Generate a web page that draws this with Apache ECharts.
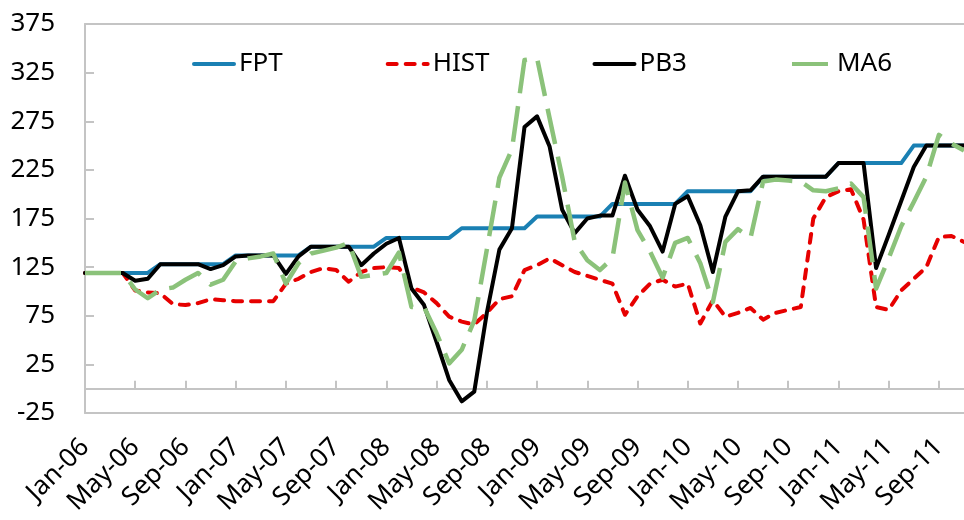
<!DOCTYPE html>
<html>
<head>
<meta charset="utf-8">
<script src="https://cdn.jsdelivr.net/npm/echarts@6/dist/echarts.min.js"></script>
<style>
  html, body { margin: 0; padding: 0; background: #fff; }
  #chart { width: 964px; height: 520px; }
</style>
</head>
<body>
<div id="chart"></div>
<script>
// Monthly categories, Jan-06 .. Nov-11
const months = [
  'Jan-06','Feb-06','Mar-06','Apr-06','May-06','Jun-06','Jul-06','Aug-06','Sep-06','Oct-06','Nov-06','Dec-06',
  'Jan-07','Feb-07','Mar-07','Apr-07','May-07','Jun-07','Jul-07','Aug-07','Sep-07','Oct-07','Nov-07','Dec-07',
  'Jan-08','Feb-08','Mar-08','Apr-08','May-08','Jun-08','Jul-08','Aug-08','Sep-08','Oct-08','Nov-08','Dec-08',
  'Jan-09','Feb-09','Mar-09','Apr-09','May-09','Jun-09','Jul-09','Aug-09','Sep-09','Oct-09','Nov-09','Dec-09',
  'Jan-10','Feb-10','Mar-10','Apr-10','May-10','Jun-10','Jul-10','Aug-10','Sep-10','Oct-10','Nov-10','Dec-10',
  'Jan-11','Feb-11','Mar-11','Apr-11','May-11','Jun-11','Jul-11','Aug-11','Sep-11','Oct-11','Nov-11'
];

const fpt = [
  119,119,119,119,119,119, 128,128,128,128,128,128,
  137,137,137,137,137,137, 146,146,146,146,146,146,
  155,155,155,155,155,155, 165,165,165,165,165,165,
  177,177,177,177,177,177, 190,190,190,190,190,190,
  203,203,203,203,203,203, 218,218,218,218,218,218,
  232,232,232,232,232,232, 250,250,250,250,250
];

const hist = [
  119,119,119,119,101,99,98,87,86,88,92,91,
  90,90,90,90,108,113,120,124,122,110,120,124,
  125,124,104,99,88,74,69,66,78,92,95,122,
  127,134,127,120,116,112,108,76,95,108,112,105,
  108,67,91,74,78,83,71,78,81,84,175,197,
  203,205,174,84,81,101,113,125,156,157,151
];

const pb3 = [
  119,119,119,119,111,113,128,128,128,128,123,127,
  136,137,137,137,118,136,146,146,146,146,127,139,
  149,155,103,86,48,9,-13,-3,78,143,165,269,
  280,249,184,160,175,178,178,219,184,167,141,190,
  198,168,120,177,203,204,218,218,218,218,218,218,
  232,232,232,124,158,193,228,250,250,250,250
];

const ma6 = [
  119,119,119,119,102,93,102,104,112,119,107,112,
  131,134,136,139,108,129,139,142,145,150,115,117,
  119,140,84,84,57,26,40,70,143,217,246,338,
  340,278,218,151,132,122,134,212,163,141,114,150,
  155,129,89,151,164,155,213,215,214,213,204,203,
  206,211,197,103,134,167,192,218,261,252,245
];

const FONT = '"Noto Sans", "Open Sans", sans-serif';
const AXIS_GREY = '#c4c4c4';

const chart = echarts.init(document.getElementById('chart'), null, { renderer: 'canvas' });

function lineSeries(name, data, color, width, dash, cap) {
  return {
    name: name,
    type: 'line',
    data: data,
    xAxisIndex: 0,
    yAxisIndex: 0,
    symbol: 'none',
    smooth: false,
    animation: false,
    lineStyle: {
      color: color,
      width: width,
      type: dash,
      cap: cap,
      join: 'round'
    },
    itemStyle: { color: color }
  };
}

chart.setOption({
  animation: false,
  backgroundColor: '#ffffff',
  grid: { left: 85, right: 0, top: 24, bottom: 107, containLabel: false },
  legend: {
    left: 187,
    top: 46,
    itemWidth: 40,
    itemHeight: 14,
    itemGap: 103,
    // legend keys are plain line samples, no marker
    itemStyle: { opacity: 0 },
    lineStyle: { width: 4 },
    textStyle: { fontFamily: FONT, fontSize: 26, color: '#000' },
    data: ['FPT', 'HIST', 'PB3', 'MA6']
  },
  xAxis: [
    {
      // lower frame edge carrying the month labels
      type: 'category',
      data: months,
      boundaryGap: false,
      position: 'bottom',
      axisLine: { show: true, onZero: false, lineStyle: { color: AXIS_GREY, width: 2 } },
      axisTick: { show: false },
      splitLine: { show: false },
      axisLabel: {
        interval: 3,
        rotate: 45,
        margin: 30,
        fontFamily: FONT,
        fontSize: 26,
        color: '#000'
      }
    },
    {
      // upper frame edge
      type: 'category',
      data: months,
      boundaryGap: false,
      position: 'top',
      axisLine: { show: true, onZero: false, lineStyle: { color: AXIS_GREY, width: 2 } },
      axisTick: { show: false },
      axisLabel: { show: false },
      splitLine: { show: false }
    },
    {
      // zero line with inward ticks
      type: 'category',
      data: months,
      boundaryGap: false,
      position: 'bottom',
      axisLine: { show: true, onZero: true, onZeroAxisIndex: 0, lineStyle: { color: AXIS_GREY, width: 2 } },
      axisTick: { show: true, inside: true, length: 8, interval: 3, lineStyle: { color: AXIS_GREY, width: 2 } },
      axisLabel: { show: false },
      splitLine: { show: false }
    }
  ],
  yAxis: [
    {
      type: 'value',
      min: -25,
      max: 375,
      interval: 50,
      axisLine: { show: true, onZero: false, lineStyle: { color: AXIS_GREY, width: 2 } },
      axisTick: { show: true, inside: true, length: 9, lineStyle: { color: AXIS_GREY, width: 2 } },
      splitLine: { show: false },
      axisLabel: {
        margin: 30,
        fontFamily: FONT,
        fontSize: 26,
        color: '#000'
      }
    }
  ],
  series: [
    lineSeries('FPT', fpt, '#1a80b3', 4, 'solid', 'round'),
    lineSeries('HIST', hist, '#e60000', 4, [9, 9], 'round'),
    lineSeries('PB3', pb3, '#000000', 4, 'solid', 'round'),
    lineSeries('MA6', ma6, '#8bc27a', 4.5, [36, 13], 'butt')
  ]
});
</script>
</body>
</html>
